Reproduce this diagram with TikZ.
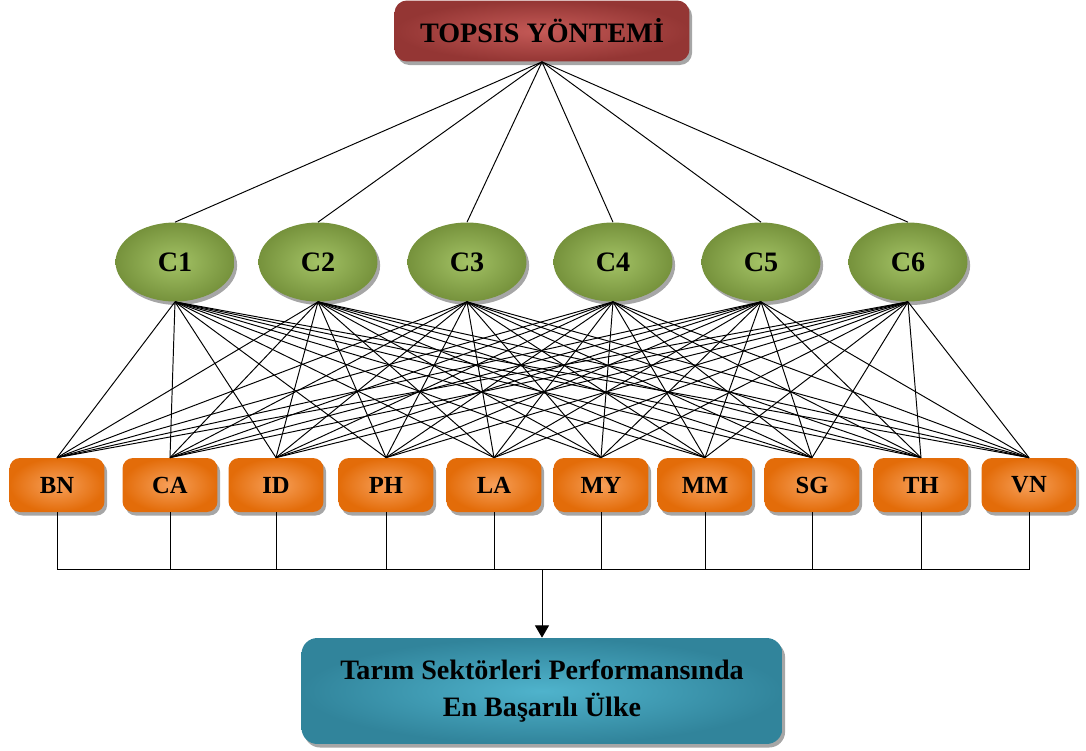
\documentclass[tikz,border=0pt]{standalone}
\usepackage{fontspec}
\setmainfont{Liberation Serif}
\usetikzlibrary{shapes.geometric,shadows,arrows.meta}

\definecolor{redout}{HTML}{943634}
\definecolor{redin}{HTML}{C55A57}
\definecolor{greenout}{HTML}{76923C}
\definecolor{greenin}{HTML}{A3C265}
\definecolor{orangeout}{HTML}{E36C09}
\definecolor{orangein}{HTML}{F7A05A}
\definecolor{tealout}{HTML}{31849B}
\definecolor{tealin}{HTML}{4FB3CC}

\tikzset{
  shade/.style={drop shadow={shadow xshift=1.5pt, shadow yshift=-2pt, fill=black, opacity=0.35}},
  method/.style={rectangle, rounded corners=7pt, shade, shading=radial,
    inner color=redin, outer color=redout, minimum width=5.9cm, minimum height=1.22cm,
    font=\bfseries\fontsize{16}{19}\selectfont},
  crit/.style={ellipse, shade, shading=radial, inner color=greenin, outer color=greenout,
    minimum width=2.38cm, minimum height=1.58cm, font=\bfseries\fontsize{16}{19}\selectfont},
  country/.style={rectangle, rounded corners=6pt, shade, shading=radial,
    inner color=orangein, outer color=orangeout, minimum width=1.9cm, minimum height=1.08cm,
    font=\bfseries\fontsize{14}{17}\selectfont},
  result/.style={rectangle, rounded corners=9pt, shade, shading=radial,
    inner color=tealin, outer color=tealout, minimum width=9.62cm, minimum height=2.12cm,
    align=center, font=\bfseries\fontsize{16}{21}\selectfont},
  link/.style={black, line width=0.55pt}
}

\begin{document}
\begin{tikzpicture}[x=0.02cm, y=-0.02cm]
  \useasboundingbox (0,0) rectangle (1086,751);

  \node[method] (top) at (542,31) {TOPSIS YÖNTEMİ};

  % criteria
  \foreach \i/\x in {1/175, 2/318, 3/467, 4/613, 5/761, 6/908}
    \node[crit] (c\i) at (\x,262) {C\i};

  % countries
  \foreach \n/\x in {BN/57, CA/170, ID/276, PH/386, LA/494, MY/601, MM/705, SG/812, TH/921, VN/1029}
    \node[country] (\n) at (\x,485) {\n};

  \node[result] (res) at (542,691) {Tarım Sektörleri Performansında\\En Başarılı Ülke};

  \foreach \i in {1,...,6}
    \draw[link] (top.south) -- (c\i.north);

  \foreach \i in {1,...,6}
    \foreach \n in {BN,CA,ID,PH,LA,MY,MM,SG,TH,VN}
      \draw[link] (c\i.south) -- (\n.north);

  \coordinate (bus) at (542,569);
  \foreach \n in {BN,CA,ID,PH,LA,MY,MM,SG,TH,VN}
    \draw[link] (\n.south) |- (bus);
  \draw[link, -{Triangle[length=7pt, width=8pt]}] (bus) -- (res.north);
\end{tikzpicture}
\end{document}
